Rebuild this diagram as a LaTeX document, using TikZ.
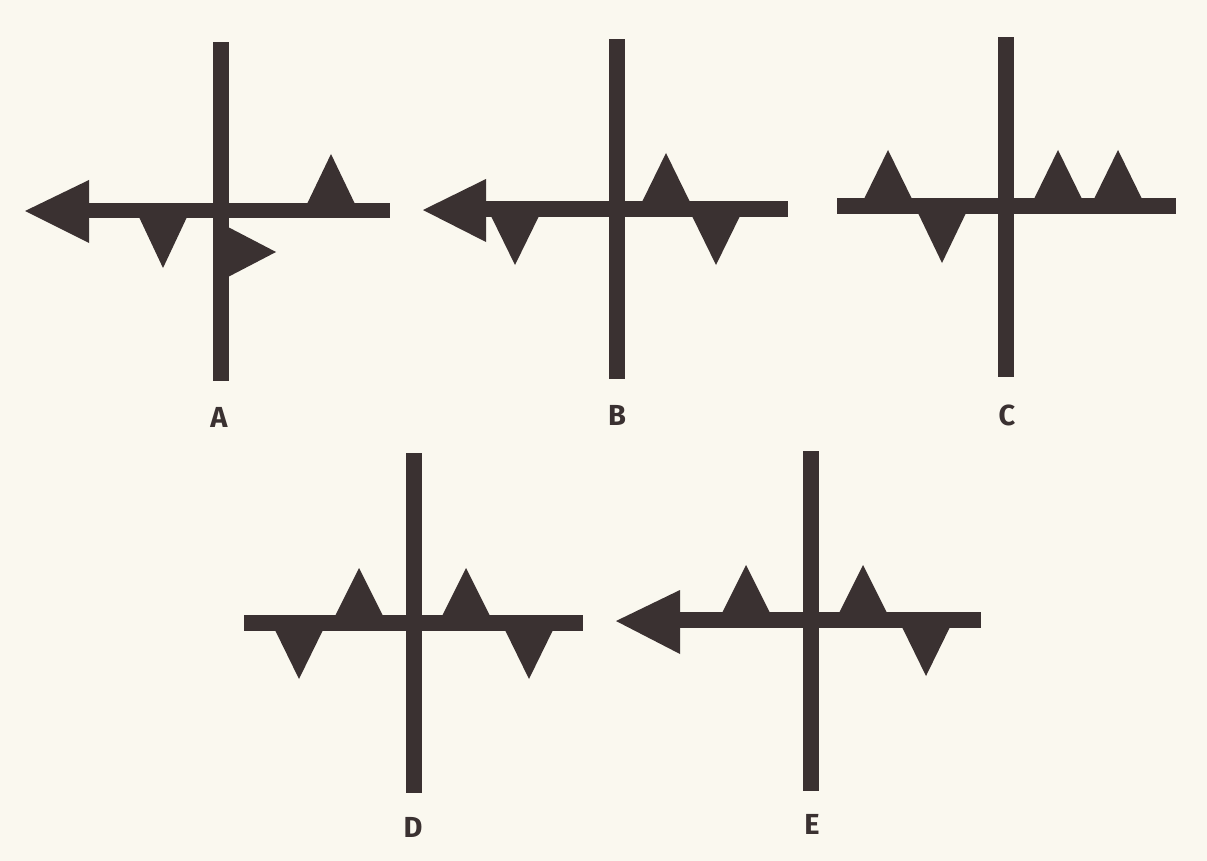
\documentclass[tikz,border=0pt]{standalone}
\usepackage{fontspec}
\setmainfont{Fira Sans}
\usetikzlibrary{positioning}

\definecolor{ink}{RGB}{58,49,49}
\definecolor{paper}{RGB}{250,248,239}

\begin{document}
\begin{tikzpicture}[
    x=1pt, y=-1pt, % pixel-like units, y pointing down
    bar/.style={fill=ink}, % Style for the straight bars
    spike/.style={fill=ink}, % Style for the triangular spikes
    head/.style={fill=ink}, % Style for the arrow heads
    lbl/.style={text=ink, font=\fontsize{29}{32}\selectfont\bfseries} % Style for the letters
]

    % Paper
    \fill[paper] (0,0) rectangle (1207,861);

    % ---- A ----
    \fill[bar] (213,42) rectangle (229,381); % vertical bar
    \fill[bar] (86,203) rectangle (390,218); % horizontal bar
    \fill[head] (25,211) -- (89,180) -- (89,243) -- cycle; % arrow head
    \foreach \x in {331} \fill[spike] (\x-24,204) -- (\x,154) -- (\x+24,204) -- cycle;
    \foreach \x in {163} \fill[spike] (\x-24,217) -- (\x,268) -- (\x+24,217) -- cycle;
    \fill[spike] (228,227) -- (276,252) -- (228,277) -- cycle; % side spike
    \node[lbl] (labA) at (219,417) {A};

    % ---- B ----
    \fill[bar] (609,39) rectangle (625,379);
    \fill[bar] (483,201) rectangle (788,217);
    \fill[head] (423,210) -- (486,179) -- (486,242) -- cycle;
    \foreach \x in {666} \fill[spike] (\x-24,202) -- (\x,153) -- (\x+24,202) -- cycle;
    \foreach \x in {515,716} \fill[spike] (\x-24,216) -- (\x,265) -- (\x+24,216) -- cycle;
    \node[lbl] (labB) at (617,415) {B};

    % ---- C ----
    \fill[bar] (998,37) rectangle (1014,377);
    \fill[bar] (837,198) rectangle (1176,214);
    \foreach \x in {888,1058,1118} \fill[spike] (\x-24,199) -- (\x,150) -- (\x+24,199) -- cycle;
    \foreach \x in {942} \fill[spike] (\x-24,213) -- (\x,263) -- (\x+24,213) -- cycle;
    \node[lbl] (labC) at (1007,415) {C};

    % ---- D ----
    \fill[bar] (406,453) rectangle (422,793);
    \fill[bar] (244,615) rectangle (583,631);
    \foreach \x in {359,466} \fill[spike] (\x-24,616) -- (\x,568) -- (\x+24,616) -- cycle;
    \foreach \x in {299,529} \fill[spike] (\x-24,630) -- (\x,679) -- (\x+24,630) -- cycle;
    \node[lbl] (labD) at (413,827) {D};

    % ---- E ----
    \fill[bar] (803,451) rectangle (819,791);
    \fill[bar] (677,612) rectangle (981,628);
    \fill[head] (616,621) -- (680,590) -- (680,654) -- cycle;
    \foreach \x in {746,863} \fill[spike] (\x-24,613) -- (\x,565) -- (\x+24,613) -- cycle;
    \foreach \x in {926} \fill[spike] (\x-24,627) -- (\x,676) -- (\x+24,627) -- cycle;
    \node[lbl] (labE) at (812,824) {E};

\end{tikzpicture}
\end{document}
